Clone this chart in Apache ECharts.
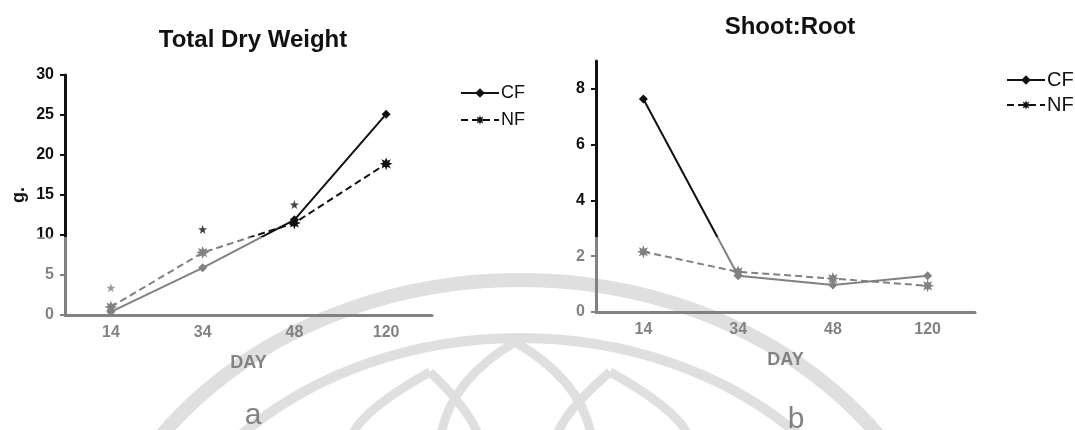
<!DOCTYPE html>
<html>
<head>
<meta charset="utf-8">
<script src="https://cdn.jsdelivr.net/npm/echarts@6/dist/echarts.min.js"></script>
<style>
  html, body { margin: 0; padding: 0; background: #fff; }
  #chart { width: 1075px; height: 430px; }
</style>
</head>
<body>
<div id="chart"></div>
<script>
// values
const days = ['14', '34', '48', '120'];
const cfWeight = [0.4, 5.9, 11.9, 25.1];
const nfWeight = [1.0, 7.8, 11.5, 18.9];
const sigWeight = [3.4, 10.7, 13.8, null];
const cfRatio = [7.64, 1.3, 0.97, 1.3];
const nfRatio = [2.16, 1.44, 1.2, 0.94];
const ratioTicks = [0, 2, 4, 6, 8];

const ink = '#111';
const font = '"Liberation Sans", Arial, sans-serif';
const diamond = 'diamond';
const asterisk = 'path://M20 10L14.62 11.91L17.07 17.07L11.91 14.62L10 20L8.09 14.62L2.93 17.07L5.38 11.91L0 10L5.38 8.09L2.93 2.93L8.09 5.38L10 0L11.91 5.38L17.07 2.93L14.62 8.09Z';
const star = 'path://M10 0L12.35 6.76L19.51 6.91L13.8 11.24L15.88 18.09L10 14L4.12 18.09L6.2 11.24L0.49 6.91L7.65 6.76Z';

function xAxisFor(grid) {
  return {
    type: 'category',
    gridIndex: grid,
    data: days,
    name: 'DAY',
    nameLocation: 'middle',
    nameGap: 39,
    nameTextStyle: { color: ink, fontSize: 18, fontWeight: 'bold', fontFamily: font },
    axisLine: { lineStyle: { color: ink, width: 3 } },
    axisTick: { alignWithLabel: true, length: 7, lineStyle: { color: ink, width: 2 } },
    axisLabel: { color: ink, fontSize: 16, fontWeight: 'bold', fontFamily: font, margin: 10 },
    splitLine: { show: false },
  };
}

const yBase = {
  type: 'value',
  min: 0,
  axisLine: { show: true, lineStyle: { color: ink, width: 3 } },
  axisTick: { show: true, length: 5, lineStyle: { color: ink, width: 2 } },
  axisLabel: { color: ink, fontSize: 16, fontWeight: 'bold', fontFamily: font, margin: 11 },
  splitLine: { show: false },
};

function lineSeries(name, data, axis, dashed, symbol, size) {
  return {
    name,
    type: 'line',
    xAxisIndex: axis,
    yAxisIndex: axis,
    data,
    symbol,
    symbolSize: size,
    lineStyle: { color: ink, width: 2, type: dashed ? [7, 4] : 'solid' },
    itemStyle: { color: ink },
    z: 3,
  };
}

const wm = { fill: 'none', stroke: '#c2c2c2' };

// watermark petal: two quadratic curves meeting at the tip
function petal(x0, x1, tipX, tipY, bottom) {
  const s = Object.assign({ lineWidth: 9 }, wm);
  return [
    { type: 'bezierCurve', z: -10, silent: true, style: s,
      shape: { x1: x0, y1: bottom, x2: tipX, y2: tipY, cpx1: x0 + 8, cpy1: tipY + 40 } },
    { type: 'bezierCurve', z: -10, silent: true, style: s,
      shape: { x1: tipX, y1: tipY, x2: x1, y2: bottom, cpx1: x1 - 8, cpy1: tipY + 40 } },
  ];
}

const chart = echarts.init(document.getElementById('chart'));

chart.setOption({
  animation: false,
  backgroundColor: '#fff',
  title: [
    { text: 'Total Dry Weight', left: 248, top: 23, textAlign: 'center',
      textStyle: { color: ink, fontSize: 24, fontWeight: 'bold', fontFamily: font } },
    { text: 'Shoot:Root', left: 785, top: 10, textAlign: 'center',
      textStyle: { color: ink, fontSize: 24, fontWeight: 'bold', fontFamily: font } },
    { text: 'a', left: 248, top: 396, textAlign: 'center',
      textStyle: { color: ink, fontSize: 30, fontWeight: 'normal', fontFamily: font } },
    { text: 'b', left: 791, top: 400, textAlign: 'center',
      textStyle: { color: ink, fontSize: 30, fontWeight: 'normal', fontFamily: font } },
  ],
  legend: [
    { data: ['CF', 'NF'], orient: 'vertical', left: 455, top: 79, itemWidth: 38, itemHeight: 12,
      itemGap: 9, selectedMode: false,
      textStyle: { color: ink, fontSize: 18, fontFamily: font, padding: [0, 0, 0, -3] } },
    { data: ['CF', 'NF'], orient: 'vertical', left: 1001, top: 65, itemWidth: 38, itemHeight: 12,
      itemGap: 5, selectedMode: false,
      textStyle: { color: ink, fontSize: 20, fontFamily: font, padding: [0, 0, 0, -3] } },
  ],
  grid: [
    { left: 65, right: 643, top: 75, bottom: 115 },
    { left: 596, right: 100, top: 61, bottom: 118 },
  ],
  xAxis: [xAxisFor(0), xAxisFor(1)],
  yAxis: [
    Object.assign({}, yBase, {
      gridIndex: 0, max: 30, interval: 5,
      name: 'g.', nameLocation: 'middle', nameGap: 37,
      nameTextStyle: { color: ink, fontSize: 18, fontWeight: 'bold', fontFamily: font },
    }),
    Object.assign({}, yBase, {
      gridIndex: 1, max: 9, interval: 2,
      axisTick: Object.assign({}, yBase.axisTick, { customValues: ratioTicks }),
      axisLabel: Object.assign({}, yBase.axisLabel, { customValues: ratioTicks }),
    }),
  ],
  series: [
    lineSeries('CF', cfWeight, 0, false, diamond, 9),
    lineSeries('NF', nfWeight, 0, true, asterisk, 13),
    {
      name: 'sig',
      type: 'scatter',
      xAxisIndex: 0,
      yAxisIndex: 0,
      data: sigWeight,
      symbol: star,
      symbolSize: 9,
      itemStyle: { color: ink },
      z: 3,
    },
    lineSeries('CF', cfRatio, 1, false, diamond, 9),
    lineSeries('NF', nfRatio, 1, true, asterisk, 13),
  ],
  graphic: [
    // faint watermark of the scanned page, kept under the chart
    { type: 'ellipse', z: -10, silent: true,
      shape: { cx: 520, cy: 650, rx: 440, ry: 370 },
      style: Object.assign({ lineWidth: 14 }, wm) },
    { type: 'ellipse', z: -10, silent: true,
      shape: { cx: 520, cy: 650, rx: 385, ry: 312 },
      style: Object.assign({ lineWidth: 10 }, wm) },
    ...petal(440, 592, 515, 342, 440),
    ...petal(350, 480, 430, 372, 440),
    ...petal(555, 690, 610, 372, 440),
    // lightened lower half of the scan
    { type: 'rect', z: 100, silent: true,
      shape: { x: 0, y: 237, width: 1075, height: 193 },
      style: { fill: 'rgba(255,255,255,0.47)' } },
  ],
});
</script>
</body>
</html>
